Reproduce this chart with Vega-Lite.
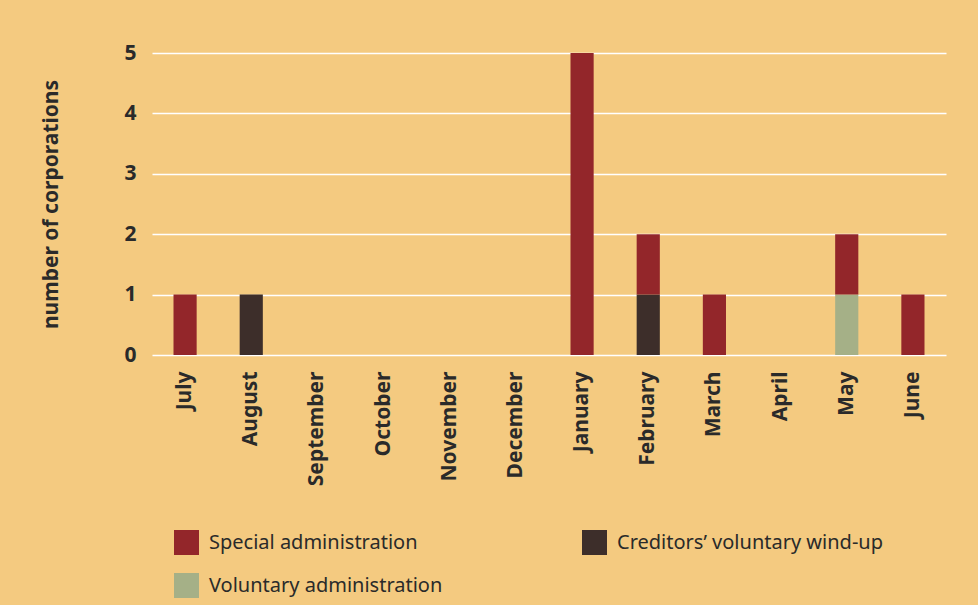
{
  "$schema": "https://vega.github.io/schema/vega-lite/v6.json",
  "width": 794,
  "height": 302,
  "autosize": {"type": "none"},
  "padding": {"left": 152, "top": 53, "right": 32, "bottom": 250},
  "background": "#F4CA80",
  "config": {
    "view": {"stroke": null},
    "font": "Noto Sans"
  },
  "data": {
    "values": [
      {"month": "July", "type": "Special administration", "count": 1},
      {"month": "August", "type": "Creditors’ voluntary wind-up", "count": 1},
      {"month": "January", "type": "Special administration", "count": 5},
      {"month": "February", "type": "Creditors’ voluntary wind-up", "count": 1},
      {"month": "February", "type": "Special administration", "count": 1},
      {"month": "March", "type": "Special administration", "count": 1},
      {"month": "May", "type": "Voluntary administration", "count": 1},
      {"month": "May", "type": "Special administration", "count": 1},
      {"month": "June", "type": "Special administration", "count": 1}
    ]
  },
  "transform": [
    {"calculate": "indexof(['Creditors’ voluntary wind-up','Voluntary administration','Special administration'], datum.type)", "as": "stackOrder"}
  ],
  "mark": {"type": "bar"},
  "encoding": {
    "x": {
      "field": "month",
      "type": "nominal",
      "scale": {
        "domain": ["July", "August", "September", "October", "November", "December", "January", "February", "March", "April", "May", "June"],
        "paddingInner": 0.65,
        "paddingOuter": 0.325
      },
      "axis": {
        "title": null,
        "labelAngle": -90,
        "labelAlign": "right",
        "labelBaseline": "middle",
        "labelFontSize": 21,
        "labelFontWeight": "bold",
        "labelColor": "#2a2a2a",
        "labelPadding": 16,
        "ticks": false,
        "domain": false,
        "grid": false
      }
    },
    "y": {
      "field": "count",
      "type": "quantitative",
      "stack": "zero",
      "scale": {"domain": [0, 5], "nice": false},
      "axis": {
        "title": "number of corporations",
        "titleFontSize": 21,
        "titleFontWeight": "bold",
        "titleColor": "#2a2a2a",
        "titlePadding": 62,
        "values": [0, 1, 2, 3, 4, 5],
        "labelFontSize": 21,
        "labelFontWeight": "bold",
        "labelColor": "#2a2a2a",
        "labelPadding": 16,
        "ticks": false,
        "domain": false,
        "grid": true,
        "gridColor": "#ffffff",
        "gridWidth": 1.5,
        "gridOpacity": 1
      }
    },
    "color": {
      "field": "type",
      "type": "nominal",
      "scale": {
        "domain": ["Special administration", "Voluntary administration", "Creditors’ voluntary wind-up"],
        "range": ["#93262A", "#A5B087", "#3D2E2A"]
      },
      "legend": {
        "title": null,
        "orient": "none",
        "legendX": 22,
        "legendY": 477,
        "columns": 2,
        "symbolType": "square",
        "symbolSize": 625,
        "symbolStrokeWidth": 0,
        "symbolOpacity": 1,
        "labelFontSize": 20,
        "labelColor": "#2a2a2a",
        "labelOffset": 10,
        "rowPadding": 18,
        "columnPadding": 139,
        "labelLimit": 400
      }
    },
    "order": {"field": "stackOrder", "type": "quantitative", "sort": "ascending"}
  }
}
